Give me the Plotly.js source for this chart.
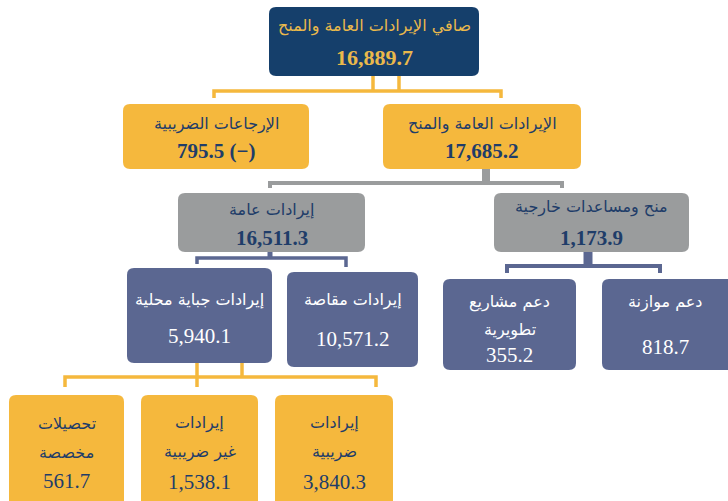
<!DOCTYPE html>
<html><head><meta charset="utf-8">
<script src="https://cdn.plot.ly/plotly-3.0.1.min.js"></script>
<style>html,body{margin:0;padding:0;background:#fff}#chart{width:728px;height:501px}</style>
</head><body><div id="chart"></div>
<script>
// ---- Data ----
const nodeTitles = [
  ["صافي الإيرادات العامة والمنح"],
  ["الإيرادات العامة والمنح"],
  ["الإرجاعات الضريبية"],
  ["إيرادات عامة"],
  ["منح ومساعدات خارجية"],
  ["إيرادات جباية محلية"],
  ["إيرادات مقاصة"],
  ["دعم مشاريع", "تطويرية"],
  ["دعم موازنة"],
  ["إيرادات", "ضريبية"],
  ["إيرادات", "غير ضريبية"],
  ["تحصيلات", "مخصصة"]
];
const nodeValues = [16889.7, 17685.2, 795.5, 16511.3, 1173.9, 5940.1, 10571.2, 355.2, 818.7, 3840.3, 1538.1, 561.7];
const nodeSuffix = ["", "", " (−)", "", "", "", "", "", "", "", "", ""];

// ---- Layout / style config ----
const C = {navy:"#153f6b", gold:"#f5b83d", gray:"#9a9c9d", blue:"#5b6791", txtNavy:"#1f3d69", txtGold:"#eab94b", white:"#ffffff"};
// box: [x0,x1,y0,y1, fill, textColor, boldValue, titleYs, valueY, titleSize, valueSize]
const boxes = [
  [269,479,7,76, C.navy, C.txtGold, true, [26], 57, 16, 22],
  [383,581,104,169, C.gold, C.txtNavy, true, [124], 151, 16, 21],
  [123,309,104,169, C.gold, C.txtNavy, true, [124], 151, 16, 21],
  [178,365,193,252, C.gray, C.txtNavy, true, [210], 238, 16, 21],
  [494,689,193,252, C.gray, C.txtNavy, true, [207], 238, 16, 21],
  [127,272,268,363, C.blue, C.white, false, [300], 336, 16, 21],
  [287,418,272,367, C.blue, C.white, false, [300], 339, 16, 21],
  [443,576,279,370, C.blue, C.white, false, [302,330], 355, 16, 21],
  [602,736,279,370, C.blue, C.white, false, [302], 347, 16, 21],
  [275,393,395,512, C.gold, C.txtNavy, false, [423,452], 482, 16, 21],
  [141,258,395,512, C.gold, C.txtNavy, false, [423,452], 482, 16, 21],
  [9,124,395,512, C.gold, C.txtNavy, false, [423,452], 481, 16, 21]
];
// connectors: [points..., color, width]
const connectors = [
  [[[373,76],[373,91]], C.gold, 3.5],
  [[[399,76],[399,91]], C.gold, 3.5],
  [[[214,98],[214,91],[501,91],[501,98]], C.gold, 3.5],
  [[[486,169],[486,183]], C.gray, 8],
  [[[270,188],[270,183],[562,183],[562,188]], C.gray, 4],
  [[[270,252],[270,258]], C.blue, 5],
  [[[197,264],[197,258],[346,258],[346,267]], C.blue, 3.5],
  [[[588,252],[588,266]], C.blue, 9],
  [[[507,273],[507,266],[660,266],[660,273]], C.blue, 4],
  [[[197,363],[197,387]], C.gold, 3.5],
  [[[242,363],[242,377]], C.gold, 3.5],
  [[[65,387],[65,377],[376,377],[376,387]], C.gold, 3.5]
];

function roundRect(x0,x1,y0,y1,r){
  return `M${x0+r},${y0} L${x1-r},${y0} Q${x1},${y0} ${x1},${y0+r} L${x1},${y1-r} Q${x1},${y1} ${x1-r},${y1} L${x0+r},${y1} Q${x0},${y1} ${x0},${y1-r} L${x0},${y0+r} Q${x0},${y0} ${x0+r},${y0} Z`;
}
const fmt = v => v.toLocaleString('en-US',{minimumFractionDigits:1, maximumFractionDigits:1});

const shapes = [];
const annotations = [];
const serif = "Liberation Serif, DejaVu Serif, DejaVu Sans, serif";
const arab = "DejaVu Sans, Liberation Serif, sans-serif";

connectors.forEach(c=>{
  const p = c[0];
  const d = p.map((pt,i)=>(i?"L":"M")+pt[0]+","+pt[1]).join(" ");
  shapes.push({type:"path", xref:"x", yref:"y", path:d, line:{color:c[1], width:c[2]}, layer:"below"});
});
boxes.forEach((b,i)=>{
  shapes.push({type:"path", xref:"x", yref:"y", path:roundRect(b[0],b[1],b[2],b[3],7), fillcolor:b[4], line:{width:0}, layer:"above"});
  const cx=(b[0]+Math.min(b[1],728))/2;
  nodeTitles[i].forEach((t,j)=>{
    annotations.push({x:cx, y:b[7][j], xref:"x", yref:"y", text:t, showarrow:false, xanchor:"center", yanchor:"middle",
      font:{family:arab, size:b[9], color:b[5]}});
  });
  const vt = fmt(nodeValues[i]) + nodeSuffix[i];
  annotations.push({x:cx, y:b[8], xref:"x", yref:"y", text: b[6] ? "<b>"+vt+"</b>" : vt, showarrow:false, xanchor:"center", yanchor:"middle",
    font:{family:serif, size:b[10], color:b[5]}});
});

Plotly.newPlot("chart", [{x:[0],y:[0],mode:"markers",marker:{opacity:0},hoverinfo:"skip",showlegend:false}], {
  width:728, height:501,
  margin:{l:0,r:0,t:0,b:0},
  paper_bgcolor:"#fff", plot_bgcolor:"#fff",
  xaxis:{range:[0,728], visible:false, fixedrange:true},
  yaxis:{range:[501,0], visible:false, fixedrange:true},
  shapes:shapes, annotations:annotations, showlegend:false
}, {displayModeBar:false, staticPlot:true});
</script></body></html>
